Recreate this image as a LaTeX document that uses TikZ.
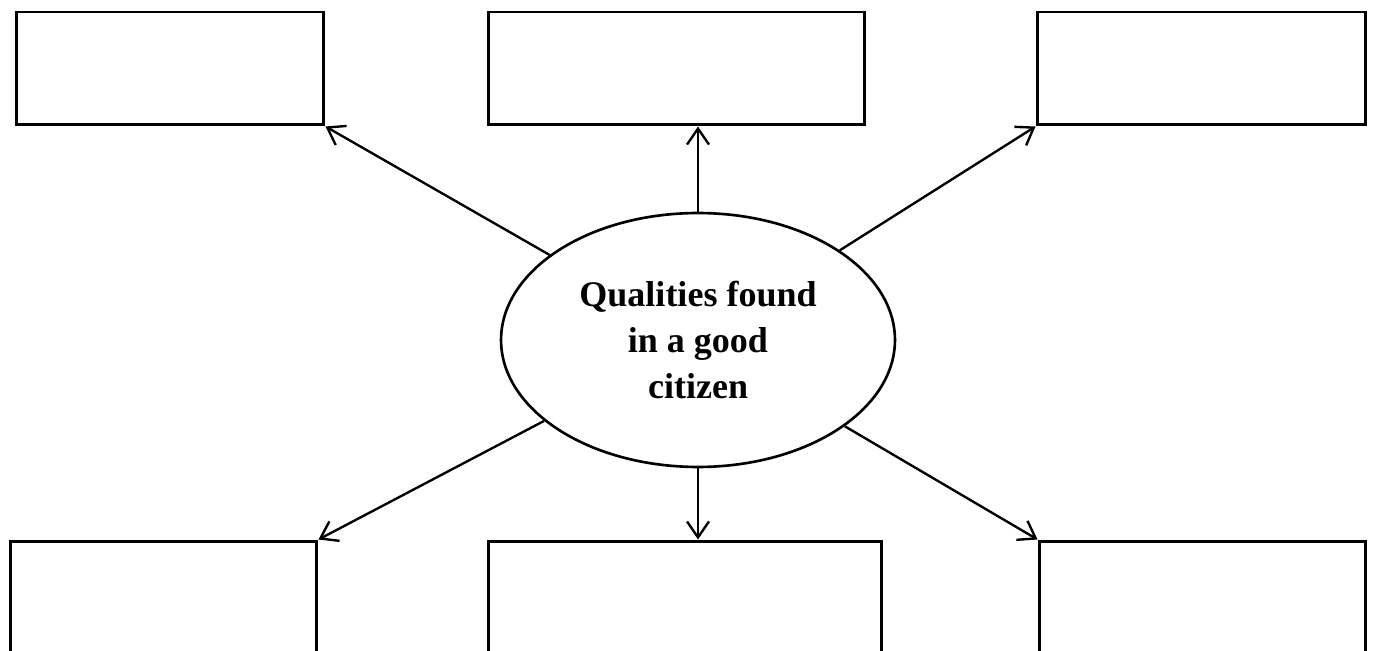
\documentclass[tikz,border=0pt]{standalone}
\usepackage{fontspec}
\setmainfont{Liberation Serif}
\usetikzlibrary{shapes,arrows.meta,positioning,calc}
\tikzstyle{block} = [rectangle, draw, line width=1.7pt, inner sep=0pt]
\tikzstyle{topbox} = [block, minimum height=2.26cm]
\tikzstyle{lowbox} = [block, minimum height=2.6cm]
\tikzstyle{topic} = [ellipse, draw, line width=1.5pt, inner sep=0pt, minimum width=7.88cm, minimum height=5.08cm, align=center, font=\fontsize{20.5}{26}\selectfont\bfseries]
\tikzstyle{link} = [-{Straight Barb[length=3.2mm,width=4.4mm]}, line width=1.35pt]

\begin{document}
\begin{tikzpicture}[x=0.02cm, y=-0.02cm]
    \clip (0,0) rectangle (1382,651);

    \node[topic] (quality) at (698,340) {Qualities found\\in a good\\citizen};

    \node[topbox, minimum width=6.16cm] (boxtl) at (170,68.5) {};
    \node[topbox, minimum width=7.54cm] (boxtc) at (676.5,68.5) {};
    \node[topbox, minimum width=6.58cm] (boxtr) at (1201.5,68.5) {};

    \node[lowbox, minimum width=6.14cm] (boxbl) at (163.5,606) {};
    \node[lowbox, minimum width=7.88cm] (boxbc) at (685,606) {};
    \node[lowbox, minimum width=6.54cm] (boxbr) at (1202.5,606) {};

    \draw[link] (quality) -- (boxtl.south east);
    \draw[link] (quality.north) -- (quality.north |- boxtc.south);
    \draw[link] (quality) -- (boxtr.south west);
    \draw[link] (quality) -- (boxbl.north east);
    \draw[link] (quality.south) -- (quality.south |- boxbc.north);
    \draw[link] (quality) -- (boxbr.north west);
\end{tikzpicture}
\end{document}
